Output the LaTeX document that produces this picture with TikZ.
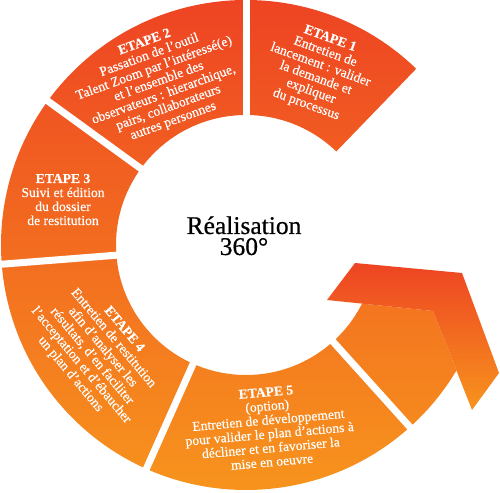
\documentclass[tikz,border=0pt]{standalone}
\usepackage{fontspec}
\setmainfont{Liberation Serif}
\usetikzlibrary{calc}
\definecolor{topred}{RGB}{238,68,35}
\definecolor{botorange}{RGB}{247,148,29}
\begin{document}
\begin{tikzpicture}[x=1pt,y=1pt,
  steptext/.style={text=white, align=center, font=\fontsize{13.6}{14}\selectfont\addfontfeature{FakeBold=0.25}, inner sep=0pt},
  gapline/.style={white, line width=7pt},
  ringshade/.style={top color=topred, bottom color=botorange}]
\useasboundingbox (0,0) rectangle (500,492);
\coordinate (O) at (246,247);
\def\ro{245}\def\ri{130}
\coordinate (A) at (327,192);
\coordinate (B) at (355,229);
\coordinate (C) at (462,219);
\coordinate (D) at (499,119);
\coordinate (E) at (472,82);
\coordinate (F) at (433,181);
% ring sectors 1-5
\begin{scope}
  \clip ($(O)+(46:\ro)$) arc[start angle=46,end angle=312,radius=\ro]
     -- ($(O)+(312:\ri)$) arc[start angle=312,end angle=46,radius=\ri] -- cycle;
  \shade[ringshade] (0,0) rectangle (500,492);
\end{scope}
% sector 6, cut by the arrow head
\begin{scope}
  \clip (A) -- (F) -- ($(F)!2!(E)$) -- (300,-20) -- (300,195) -- cycle;
  \clip ($(O)+(-48:\ro)$) arc[start angle=-48,end angle=-15,radius=\ro]
     -- ($(O)+(-15:\ri)$) arc[start angle=-15,end angle=-48,radius=\ri] -- cycle;
  \shade[ringshade] (0,0) rectangle (500,492);
\end{scope}
% white gaps
\foreach \a in {90,144,184.5,246,312}
  \draw[gapline] (O) -- ++(\a:262);
% arrow head
\shade[top color=topred, bottom color=botorange] (A) -- (B) -- (C) -- (D) -- (E) -- (F) -- cycle;
% texts
\node[steptext, rotate=-20] (s1) at (318,420) {\textbf{ETAPE 1}\\Entretien de\\lancement : valider\\la demande et\\expliquer\\du processus};
\node[steptext, rotate=20] (s2) at (159,410) {\textbf{ETAPE 2}\\Passation de l’outil\\Talent Zoom par  l’intéressé(e)\\et l’ensemble des\\observateurs : hierarchique,\\pairs, collaborateurs\\autres personnes};
\node[steptext, anchor=base] (s3) at (63,267) {\textbf{ETAPE 3}\\Suivi et édition\\du dossier\\de restitution};
\node[steptext, rotate=-50] (s4) at (97,140) {\textbf{ETAPE 4}\\Entretien de restitution\\afin  d’analyser les\\résultats, d’en faciliter\\l’acceptation et d’ébaucher\\un plan d’actions};
\node[steptext, rotate=5] (s5) at (269,65) {\textbf{ETAPE 5}\\(option)\\Entretien de développement\\pour valider le plan d’actions à\\décliner et en favoriser la\\mise en oeuvre};
\node[align=center, font=\fontsize{25.5}{21}\selectfont\addfontfeature{FakeBold=0.6}, inner sep=0pt, anchor=base] (c) at (244,237) {Réalisation\\360°};
\end{tikzpicture}
\end{document}
